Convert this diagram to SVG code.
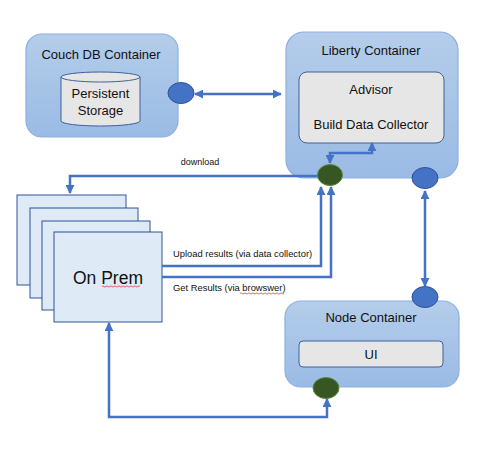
<svg xmlns="http://www.w3.org/2000/svg" width="477" height="466" viewBox="0 0 477 466">
<defs>
<linearGradient id="cg" x1="0" y1="0" x2="0" y2="1">
<stop offset="0" stop-color="#b4cdea"/>
<stop offset="1" stop-color="#9abbe5"/>
</linearGradient>
<marker id="ah" viewBox="0 0 10 10" refX="9" refY="5" markerWidth="9" markerHeight="9" markerUnits="userSpaceOnUse" orient="auto-start-reverse">
<path d="M0,0 L10,5 L0,10 Z" fill="#4472c4"/>
</marker>
<style>
.cont{fill:url(#cg);stroke:#8db0de;stroke-width:1.2}
.inner{fill:#e7e6e6;stroke:#41609a;stroke-width:1}
.prem{fill:#deebf7;stroke:#2f5597;stroke-width:1}
.blue{fill:#4472c4;stroke:#2f5597;stroke-width:1}
.green{fill:#375623;stroke:#5b8a3c;stroke-width:1}
.t{font-family:"Liberation Sans",Arial,sans-serif;fill:#111;text-anchor:middle}
.s{font-family:"Liberation Sans",Arial,sans-serif;fill:#111;font-size:9.4px}
.ln{fill:none;stroke:#4472c4;stroke-width:2.5}
.sq{fill:none;stroke:#e0262a;stroke-width:0.7}
</style>
</defs>
<rect width="477" height="466" fill="#fff"/>

<g id="couchdb">
<rect class="cont" x="26" y="34" width="152" height="103" rx="16"/>
<text class="t" x="101" y="59" font-size="13">Couch DB Container</text>
<g id="storage">
<path d="M61,77 V121 A39.5,5 0 0 0 140,121 V77" fill="#e7e6e6" stroke="#41609a" stroke-width="1"/>
<ellipse cx="100.5" cy="77" rx="39.5" ry="5" fill="#e7e6e6" stroke="#41609a" stroke-width="1"/>
<text class="t" x="100.5" y="98" font-size="13">Persistent</text>
<text class="t" x="100.5" y="115" font-size="13">Storage</text>
</g>
<ellipse id="couch-port" class="blue" cx="181" cy="93" rx="13" ry="10.5"/>
</g>

<g id="liberty">
<rect class="cont" x="286" y="32" width="172" height="146" rx="18"/>
<text class="t" x="371" y="55" font-size="13">Liberty Container</text>
<rect class="inner" x="299" y="72" width="145" height="71" rx="8"/>
<text class="t" x="371" y="94" font-size="13">Advisor</text>
<text class="t" x="371" y="129" font-size="13">Build Data Collector</text>
<ellipse id="liberty-port-green" class="green" cx="330" cy="175" rx="12.5" ry="10.5"/>
<ellipse id="liberty-port-blue" class="blue" cx="425" cy="178" rx="13" ry="10.5"/>
</g>

<g id="onprem">
<rect class="prem" x="17" y="195" width="109" height="90"/>
<rect class="prem" x="30" y="208" width="108" height="90"/>
<rect class="prem" x="42" y="221" width="108" height="89"/>
<rect class="prem" x="54" y="232" width="108" height="90"/>
<text class="t" x="108" y="284" font-size="17.5">On Prem</text>
<path class="sq" d="M102,286.5 q1,-1.2 2,0 t2,0 t2,0 t2,0 t2,0 t2,0 t2,0 t2,0 t2,0 t2,0 t2,0 t2,0 t2,0 t2,0 t2,0 t2,0 t2,0 t2,0 t2,0"/>
</g>

<g id="node">
<rect class="cont" x="285" y="301" width="174" height="86" rx="16"/>
<text class="t" x="371" y="322" font-size="13">Node Container</text>
<rect class="inner" x="299" y="341" width="144" height="26" rx="4"/>
<text class="t" x="371" y="359" font-size="13">UI</text>
<ellipse id="node-port-blue" class="blue" cx="425" cy="297" rx="13" ry="10.5"/>
<ellipse id="node-port-green" class="green" cx="326" cy="388" rx="13" ry="10.5"/>
</g>

<g id="connectors">
<line class="ln" x1="195" y1="94" x2="281" y2="94" marker-start="url(#ah)" marker-end="url(#ah)"/>
<path class="ln" d="M330,163 V153 H372 V143" marker-start="url(#ah)" marker-end="url(#ah)"/>
<path class="ln" d="M318,176 H70 V193" marker-end="url(#ah)"/>
<path class="ln" d="M162,266 H321 V187" marker-end="url(#ah)"/>
<path class="ln" d="M162,277 H331 V187" marker-end="url(#ah)"/>
<line class="ln" x1="425" y1="191" x2="425" y2="286" marker-start="url(#ah)" marker-end="url(#ah)"/>
<path class="ln" d="M109,323 V417 H327 V399" marker-start="url(#ah)" marker-end="url(#ah)"/>
</g>

<g id="labels">
<text class="t" x="200" y="165" font-size="9">download</text>
<text class="s" x="173" y="257">Upload results (via data collector)</text>
<text class="s" x="173" y="291">Get Results (via browswer)</text>
<path class="sq" d="M240,293.5 q1,-1.2 2,0 t2,0 t2,0 t2,0 t2,0 t2,0 t2,0 t2,0 t2,0 t2,0 t2,0 t2,0 t2,0 t2,0 t2,0 t2,0 t2,0 t2,0 t2,0 t2,0 t2,0 t2,0"/>
</g>
</svg>
